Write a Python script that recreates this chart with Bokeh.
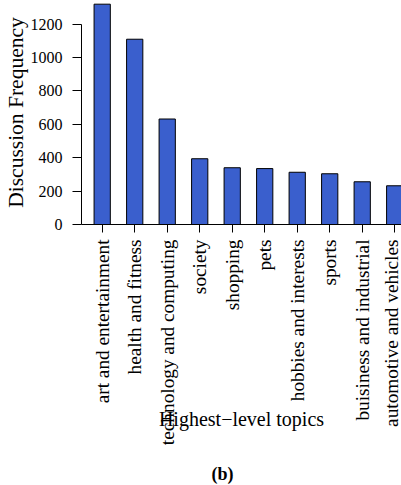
from math import pi

from bokeh.plotting import figure
from bokeh.models import Range1d, FixedTicker, Title, Label
from bokeh.embed import file_html
from bokeh.resources import INLINE

# Discussion frequency for each highest-level topic
topics = [
    "art and entertainment",
    "health and fitness",
    "technology and computing",
    "society",
    "shopping",
    "pets",
    "hobbies and interests",
    "sports",
    "buisiness and industrial",
    "automotive and vehicles",
]
frequency = [1320, 1110, 632, 394, 340, 335, 313, 304, 256, 232]
y_ticks = [0, 200, 400, 600, 800, 1000, 1200]

SERIF = "Liberation Serif"
BAR_FILL = "#3A5FCD"

positions = list(range(1, len(topics) + 1))

p = figure(
    width=401,
    height=485,
    output_backend="svg",
    toolbar_location=None,
    x_range=Range1d(0.363, 10.209),
    y_range=Range1d(0, 1342),
    min_border_left=81,
    min_border_right=0,
    min_border_top=0,
    min_border_bottom=261,
)
p.outline_line_color = None
p.xgrid.visible = False
p.ygrid.visible = False
p.background_fill_color = "white"
p.border_fill_color = "white"

p.vbar(x=positions, top=frequency, width=0.5, bottom=0,
       fill_color=BAR_FILL, line_color="black", line_width=1)

# y axis: line only across the tick range
ya = p.yaxis[0]
ya.ticker = FixedTicker(ticks=y_ticks)
ya.bounds = (0, 1200)
ya.minor_tick_line_color = None
ya.major_tick_out = 9
ya.major_tick_in = 0
ya.major_label_standoff = 10
ya.major_label_text_font = SERIF
ya.major_label_text_font_size = "16px"
ya.major_label_text_color = "black"
ya.axis_line_color = "black"
ya.major_tick_line_color = "black"

# x axis: one tick per topic, rotated names; title pulled up over the long names
xa = p.xaxis[0]
xa.ticker = FixedTicker(ticks=positions)
xa.major_label_overrides = {pos: name for pos, name in zip(positions, topics)}
xa.major_label_orientation = pi / 2
xa.minor_tick_line_color = None
xa.major_tick_out = 8
xa.major_tick_in = 0
xa.major_label_standoff = 7
xa.major_label_text_font = SERIF
xa.major_label_text_font_size = "19.3px"
xa.major_label_text_color = "black"
xa.axis_line_color = "black"
xa.major_tick_line_color = "black"
xa.axis_label = "Highest\u2212level topics"
xa.axis_label_standoff = -40
xa.axis_label_text_font = SERIF
xa.axis_label_text_font_size = "20px"
xa.axis_label_text_font_style = "normal"
xa.axis_label_text_color = "black"

# y title
p.add_layout(Title(text="Discussion Frequency", align="center", offset=11,
                   standoff=0, text_font=SERIF, text_font_size="21.5px",
                   text_font_style="normal", text_color="black"), "left")

# panel caption, placed in data coordinates under the axis title
p.add_layout(Label(x=4.701, y=-1492, text="(b)", text_font_style="bold",
                   text_align="center", text_baseline="alphabetic",
                   text_font=SERIF, text_font_size="18px",
                   text_color="black"), "below")

open("out.html", "w").write(file_html(p, INLINE))
